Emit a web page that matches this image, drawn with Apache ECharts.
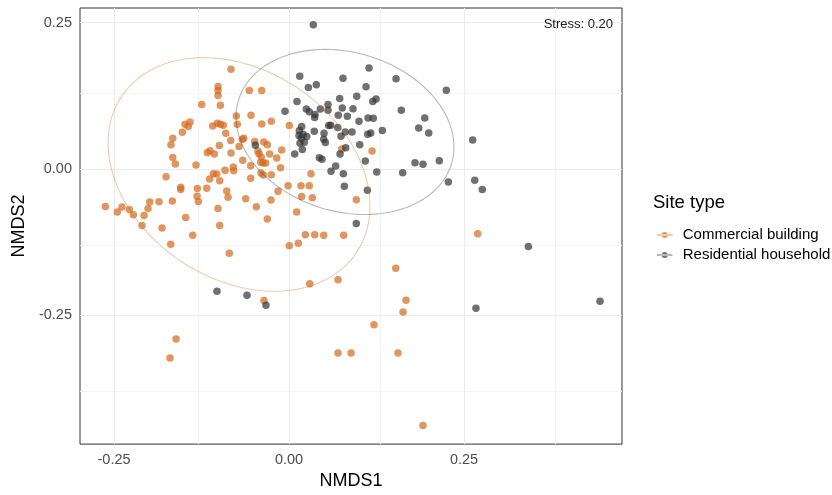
<!DOCTYPE html>
<html>
<head>
<meta charset="utf-8">
<script src="https://cdn.jsdelivr.net/npm/echarts@6/dist/echarts.min.js"></script>
<style>html,body{margin:0;padding:0;background:#fff}#c{width:832px;height:495px}</style>
</head>
<body>
<div id="c"></div>
<script>
const commercialNMDS1 = [-0.0829,-0.1014,-0.1014,-0.1014,-0.0567,-0.0390,-0.1247,-0.0981,-0.0753,-0.0543,
-0.0390,-0.0253,0.0004,-0.1414,-0.1486,-0.1439,-0.0739,-0.1090,-0.1024,-0.0981,
-0.0939,-0.1524,-0.0904,-0.1661,-0.1686,-0.0833,-0.0647,-0.0667,-0.0996,-0.0490,
-0.0361,-0.0310,-0.0714,-0.1167,-0.1129,-0.1067,-0.0829,-0.0443,-0.0429,-0.0276,
-0.0104,0.0753,-0.1661,-0.1624,-0.1329,-0.0661,-0.0547,-0.0396,-0.0404,-0.0371,
-0.0333,-0.0176,-0.0121,-0.0796,-0.0790,-0.0914,-0.1081,-0.1033,-0.1133,-0.0990,
-0.1757,-0.0400,-0.0367,-0.0253,-0.0547,-0.1547,-0.1547,-0.1310,-0.1176,-0.0890,
-0.0157,-0.0014,0.0171,0.0290,0.0314,-0.1314,-0.1296,-0.0871,-0.0619,-0.0257,
0.0181,0.0333,-0.2624,-0.1990,-0.1857,-0.1667,-0.2386,-0.2281,-0.2453,-0.2224,
-0.2071,-0.2014,-0.2100,-0.1814,-0.1476,-0.1014,-0.0467,-0.0990,-0.0310,0.0110,
-0.1376,-0.1690,-0.0853,0.0233,0.0367,0.0496,0.0781,0.0004,0.0133,0.0961,
0.0296,0.0700,0.1186,0.2696,0.1524,-0.1614,-0.1700,-0.0357,0.1671,0.1629,
0.1214,0.0700,0.0886,0.1557,0.1914];
const commercialNMDS2 = [0.1703,0.1409,0.1341,0.1256,0.1341,0.1341,0.1104,0.1087,0.0905,0.0917,
0.0769,0.0815,0.0742,0.0803,0.0764,0.0725,0.0764,0.0735,0.0781,0.0764,
0.0747,0.0628,0.0611,0.0526,0.0413,0.0487,0.0526,0.0504,0.0402,0.0470,
0.0463,0.0413,0.0385,0.0277,0.0311,0.0255,0.0272,0.0306,0.0260,0.0255,
0.0323,0.0340,0.0195,0.0085,0.0068,0.0148,0.0056,0.0199,0.0114,0.0102,
0.0102,0.0187,0.0022,0.0034,-0.0029,-0.0022,-0.0080,-0.0085,-0.0170,-0.0199,
-0.0131,-0.0068,-0.0102,-0.0097,-0.0158,-0.0311,-0.0351,-0.0334,-0.0328,-0.0374,
-0.0379,-0.0284,-0.0284,-0.0284,-0.0080,-0.0463,-0.0555,-0.0480,-0.0509,-0.0531,
-0.0470,-0.0492,-0.0640,-0.0565,-0.0560,-0.0548,-0.0650,-0.0691,-0.0735,-0.0781,
-0.0793,-0.0674,-0.0963,-0.1007,-0.0827,-0.0674,-0.0645,-0.0963,-0.0854,-0.0735,
-0.1132,-0.1285,-0.1438,-0.1121,-0.1121,-0.1132,-0.1132,-0.1312,-0.1268,-0.0526,
-0.1958,-0.1890,0.0306,-0.1104,-0.1693,-0.2903,-0.3226,-0.2246,-0.2241,-0.2440,
-0.2660,-0.3141,-0.3141,-0.3141,-0.4380];
const residentialNMDS1 = [0.0347,0.1143,0.0153,0.0771,0.1529,0.0276,0.0390,0.1100,0.2247,0.0724,
0.0967,0.0114,0.1196,0.1243,0.0557,-0.0057,0.0247,0.0290,0.0371,0.0367,
0.0447,0.0557,0.0761,0.0914,0.0704,0.0833,0.1604,0.1129,0.1204,0.1000,
0.1939,0.0567,0.0596,0.0696,0.0181,0.0147,0.0143,0.0176,0.0200,0.0253,
0.0361,0.0500,0.0804,0.0900,0.0743,0.1167,0.1124,0.1333,0.1853,0.1996,
0.0496,0.0519,0.0157,0.0219,0.0190,0.1010,0.0810,-0.0481,0.0081,0.0729,
0.0433,0.0471,0.2624,0.0667,0.0600,0.0776,0.0790,0.1090,0.1119,0.1253,
0.1624,0.1800,0.1914,0.2147,0.2276,0.2653,0.2761,0.0961,0.3419,-0.1029,
-0.0600,-0.0329,0.2671,0.4443];
const residentialNMDS2 = [0.2462,0.1727,0.1584,0.1550,0.1540,0.1392,0.1438,0.1404,0.1346,0.1205,
0.1244,0.1154,0.1154,0.1194,0.1104,0.0985,0.1024,0.0980,0.0929,0.0878,
0.1024,0.1002,0.1041,0.1031,0.0917,0.0900,0.1002,0.0871,0.0866,0.0815,
0.0871,0.0742,0.0747,0.0708,0.0725,0.0657,0.0572,0.0526,0.0594,0.0555,
0.0645,0.0611,0.0633,0.0633,0.0560,0.0616,0.0594,0.0657,0.0701,0.0616,
0.0509,0.0453,0.0441,0.0458,0.0334,0.0413,0.0362,0.0407,0.0255,0.0255,
0.0192,0.0165,0.0497,0.0051,-0.0039,-0.0080,-0.0294,0.0136,-0.0362,-0.0051,
-0.0063,0.0107,0.0080,0.0141,-0.0221,-0.0192,-0.0351,-0.0929,-0.1324,-0.2088,
-0.2156,-0.2326,-0.2377,-0.2258];

const seriesNames = ['Commercial building', 'Residential household'];
const xTicks = [-0.25, 0, 0.25];
const yTicks = [-0.25, 0, 0.25];
const xMinorGrid = [-0.125, 0.125, 0.375];
const yMinorGrid = [-0.375, -0.125, 0.125];
const stressText = 'Stress: 0.20';

// 95% ellipse shapes (centre, semi-axes, rotation in degrees)
const commercialEllipse = {cx: -0.0714, cy: -0.0093, a: 0.2186, b: 0.1644, angle: -51.7};
const residentialEllipse = {cx: 0.0800, cy: 0.0633, a: 0.1631, b: 0.1323, angle: -30.7};

const colCommercial = '#D2691E';
const colResidential = '#333333';

function zip(xs, ys) { return xs.map((x, i) => [x, ys[i]]); }
function ellipsePath(e) {
  const pts = [];
  const th = e.angle * Math.PI / 180;
  for (let k = 0; k <= 120; k++) {
    const t = k / 120 * 2 * Math.PI;
    const u = e.a * Math.cos(t), v = e.b * Math.sin(t);
    pts.push([e.cx + u * Math.cos(th) - v * Math.sin(th), e.cy + u * Math.sin(th) + v * Math.cos(th)]);
  }
  return pts;
}

const FONT = "'Liberation Sans', Arial, Helvetica, sans-serif";
const chart = echarts.init(document.getElementById('c'), null, {renderer: 'canvas'});
const gridLine = (vals, axis, color) => vals.map(v => ({[axis]: v, lineStyle: {color: color, width: 1, type: 'solid'}}));

const legendIcon = 'path://M0,4.4h18v1.2h-18z M5.5,5a3.5,3.5 0 1,0 7,0a3.5,3.5 0 1,0 -7,0z';

chart.setOption({
  animation: false,
  backgroundColor: '#ffffff',
  textStyle: {fontFamily: FONT},
  grid: {left: 80, right: 210, top: 8, bottom: 48, show: true, borderColor: '#333333', borderWidth: 1, backgroundColor: '#ffffff'},
  xAxis: {
    type: 'value', min: -0.2986, max: 0.4757,
    name: 'NMDS1', nameLocation: 'middle', nameGap: 27,
    nameTextStyle: {fontSize: 18, color: '#000', fontFamily: FONT},
    splitLine: {show: false}, axisLine: {show: false},
    axisTick: {show: true, length: 4, customValues: xTicks, lineStyle: {color: '#333333'}},
    axisLabel: {customValues: xTicks, formatter: v => v.toFixed(2), fontSize: 14.5, color: '#4D4D4D', margin: 8, fontFamily: FONT}
  },
  yAxis: {
    type: 'value', min: -0.4698, max: 0.2750,
    name: 'NMDS2', nameLocation: 'middle', nameGap: 45, nameRotate: 90,
    nameTextStyle: {fontSize: 18, color: '#000', fontFamily: FONT},
    splitLine: {show: false}, axisLine: {show: false},
    axisTick: {show: true, length: 4, customValues: yTicks, lineStyle: {color: '#333333'}},
    axisLabel: {customValues: yTicks, formatter: v => v.toFixed(2), fontSize: 14.5, color: '#4D4D4D', margin: 8, fontFamily: FONT}
  },
  legend: {
    data: seriesNames, orient: 'vertical', left: 652, top: 220,
    itemWidth: 26, itemHeight: 6, itemGap: 0, icon: legendIcon,
    textStyle: {fontSize: 15, color: '#000', lineHeight: 20, fontFamily: FONT}
  },
  graphic: [
    {type: 'text', left: 653, top: 193, z: 10, style: {text: 'Site type', font: "18.5px " + FONT, fill: '#000'}},
    {type: 'text', right: 219, top: 18, z: 10, style: {text: stressText, font: "13px " + FONT, fill: '#1a1a1a', textAlign: 'right'}}
  ],
  series: [
    {type: 'scatter', name: 'gridMinor', data: [], silent: true, z: 0,
     markLine: {silent: true, z: 0, symbol: ['none', 'none'], label: {show: false},
       data: gridLine(xMinorGrid, 'xAxis', '#F4F4F4').concat(gridLine(yMinorGrid, 'yAxis', '#F4F4F4'))}},
    {type: 'scatter', name: 'gridMajor', data: [], silent: true, z: 0,
     markLine: {silent: true, z: 1, symbol: ['none', 'none'], label: {show: false},
       data: gridLine(xTicks, 'xAxis', '#EBEBEB').concat(gridLine(yTicks, 'yAxis', '#EBEBEB'))}},
    {type: 'scatter', name: seriesNames[0], data: zip(commercialNMDS1, commercialNMDS2), symbolSize: 7.5,
     itemStyle: {color: colCommercial, opacity: 0.7}, z: 3},
    {type: 'scatter', name: seriesNames[1], data: zip(residentialNMDS1, residentialNMDS2), symbolSize: 7.5,
     itemStyle: {color: colResidential, opacity: 0.7}, z: 3},
    {type: 'line', name: 'ellipseC', data: ellipsePath(commercialEllipse), showSymbol: false, silent: true, z: 4,
     lineStyle: {color: colCommercial, opacity: 0.35, width: 1.1}},
    {type: 'line', name: 'ellipseR', data: ellipsePath(residentialEllipse), showSymbol: false, silent: true, z: 4,
     lineStyle: {color: colResidential, opacity: 0.35, width: 1.1}}
  ]
});
</script>
</body>
</html>
